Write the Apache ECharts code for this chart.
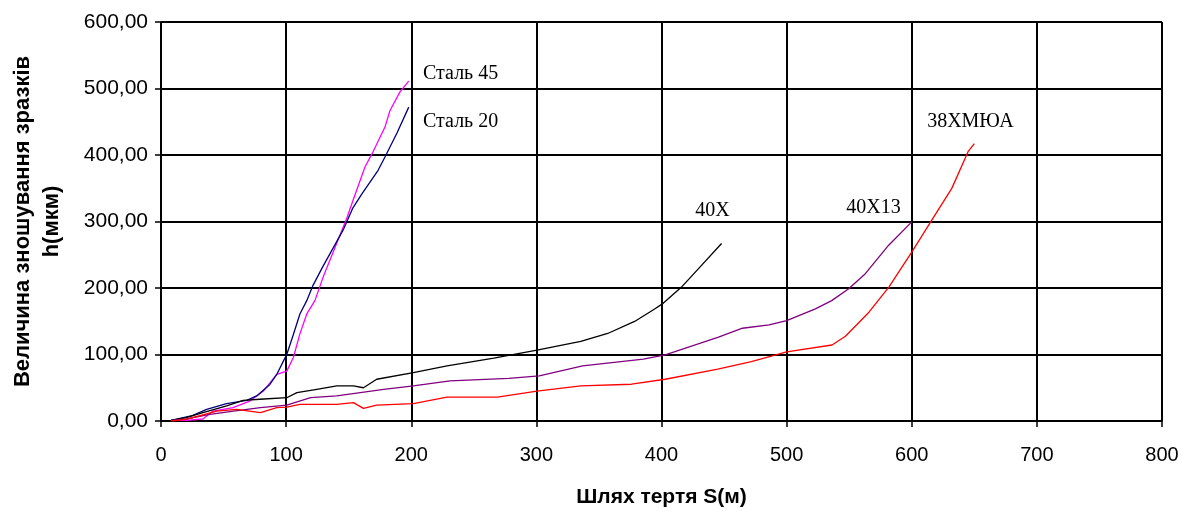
<!DOCTYPE html>
<html>
<head>
<meta charset="utf-8">
<script src="https://cdn.jsdelivr.net/npm/echarts@6/dist/echarts.min.js"></script>
<style>html,body{margin:0;padding:0;background:#fff}#c{width:1194px;height:512px}</style>
</head>
<body>
<div id="c"></div>
<script>
// X tick labels / axis
const xTicks = [0, 100, 200, 300, 400, 500, 600, 700, 800];
const yTicks = [0, 100, 200, 300, 400, 500, 600];

// Сталь 45
const st45X = [8, 20, 33.5, 41.6, 57.5, 71, 81.8, 92.5, 100.5, 105.8, 111, 116.5, 123, 129.5, 148.7, 153.5, 163, 168.7, 179, 183, 191, 198];
const st45Y = [1, 1, 3, 15, 20, 30, 45, 70, 75, 95.5, 131, 161, 181, 216, 306, 332, 382, 402, 442, 467, 495, 511];
// Сталь 20
const st20X = [8, 25, 36.5, 52.4, 68.5, 76.5, 87, 92.5, 97.8, 100.5, 105.8, 111, 116.5, 121.5, 129, 145.5, 153.5, 160.7, 173.5, 179, 188.6, 198];
const st20Y = [1, 8, 17.5, 26, 31, 37.7, 55, 70, 90, 100, 130, 161, 181, 204, 231, 287, 321, 342, 377, 397, 433, 472];
// 40X
const x40X = [8, 20, 33.5, 52.5, 65.7, 79, 100.5, 108.6, 124.5, 140.5, 153.8, 161.8, 172.4, 201.7, 228.6, 266, 300.5, 335.5, 357, 378.5, 394.5, 401.3, 415.8, 431.8, 448];
const x40Y = [1, 5, 12.5, 22.6, 31, 32.7, 35, 42.7, 47.7, 52.8, 52.8, 50, 62.8, 72.9, 82.9, 94.5, 106.5, 119.6, 131.6, 149.7, 168.4, 176.9, 201, 233.7, 267];
// 40X13
const x4013X = [8, 20, 39, 58, 79.5, 100.5, 119.6, 140.5, 178, 201.7, 231, 278, 302.3, 337, 385.5, 403, 445, 464.7, 486, 500, 523, 536, 549.6, 562.9, 581.4, 600];
const x4013Y = [1, 3, 10, 15, 20, 24, 35, 37.7, 47.7, 52.8, 60.3, 64, 67.8, 82.9, 92.9, 99.4, 125.6, 139.5, 144.5, 151, 168.6, 181, 198.8, 221.5, 264, 299.5];
// 38ХМЮА
const x38X = [8, 20, 44.5, 60.5, 79.5, 92.5, 100.5, 111, 140.5, 153.8, 161.8, 172.4, 201.7, 228.6, 268.9, 300.5, 335.5, 376, 403, 445, 471.8, 500, 536.3, 547, 565.8, 581.7, 600, 616, 632, 645, 650];
const x38Y = [0, 2.5, 15, 17.6, 12.5, 20, 21, 25, 25, 27.6, 19, 24, 26, 36, 36, 45, 52.8, 55.3, 62.8, 78, 89.4, 104, 114.3, 127.4, 163.6, 201.4, 254, 302, 349.8, 405, 417];

// Series names and label anchors (data coords)
const names = ['Сталь 45', 'Сталь 20', '40X', '40X13', '38ХМЮА'];
const labelAt = [[209.4, 522], [209.4, 450], [427, 316], [547.6, 321], [612.3, 450]];
const colors = ['#ff00ff', '#000080', '#000000', '#800080', '#ff0000'];
const xs = [st45X, st20X, x40X, x4013X, x38X];
const ys = [st45Y, st20Y, x40Y, x4013Y, x38Y];

const zip = (a, b) => a.map((v, i) => [v, b[i]]);

const chart = echarts.init(document.getElementById('c'));
const series = names.map((n, i) => ({
  name: n,
  type: 'line',
  data: zip(xs[i], ys[i]),
  showSymbol: false,
  symbol: 'none',
  lineStyle: { color: colors[i], width: 1.3 },
  itemStyle: { color: colors[i] },
  z: 5,
  markPoint: {
    symbol: 'circle',
    symbolSize: 0,
    silent: true,
    data: [{ coord: labelAt[i] }],
    label: {
      show: true,
      position: 'right',
      distance: 0,
      formatter: n,
      color: '#000',
      fontFamily: 'Liberation Serif',
      fontSize: 20
    }
  }
}));

chart.setOption({
  animation: false,
  backgroundColor: '#fff',
  grid: { left: 161, right: 32, top: 22, bottom: 91, containLabel: false, outerBoundsMode: 'none' },
  xAxis: {
    type: 'value',
    min: xTicks[0],
    max: xTicks[xTicks.length - 1],
    interval: 100,
    name: 'Шлях тертя S(м)',
    nameLocation: 'middle',
    nameGap: 66,
    nameTextStyle: { fontFamily: 'Liberation Sans', fontWeight: 'bold', fontSize: 21, color: '#000' },
    axisLine: { show: true, lineStyle: { color: '#000', width: 1.5 } },
    axisTick: { show: true, length: 6, lineStyle: { color: '#000', width: 1.5 } },
    axisLabel: { margin: 24, fontFamily: 'Liberation Sans', fontSize: 20, color: '#000' },
    splitLine: { show: true, lineStyle: { color: '#000', width: 2 } }
  },
  yAxis: {
    type: 'value',
    min: yTicks[0],
    max: yTicks[yTicks.length - 1],
    interval: 100,
    name: 'Величина зношування зразків\nh(мкм)',
    nameLocation: 'middle',
    nameRotate: 90,
    nameGap: 95,
    nameTextStyle: { fontFamily: 'Liberation Sans', fontWeight: 'bold', fontSize: 22, color: '#000', lineHeight: 29 },
    axisLine: { show: true, lineStyle: { color: '#000', width: 1.5 } },
    axisTick: { show: true, length: 6, lineStyle: { color: '#000', width: 1.5 } },
    axisLabel: {
      margin: 13,
      fontFamily: 'Liberation Sans',
      fontSize: 21,
      color: '#000',
      formatter: v => v.toFixed(2).replace('.', ',')
    },
    splitLine: { show: true, lineStyle: { color: '#000', width: 2 } }
  },
  series: series
});
</script>
</body>
</html>
